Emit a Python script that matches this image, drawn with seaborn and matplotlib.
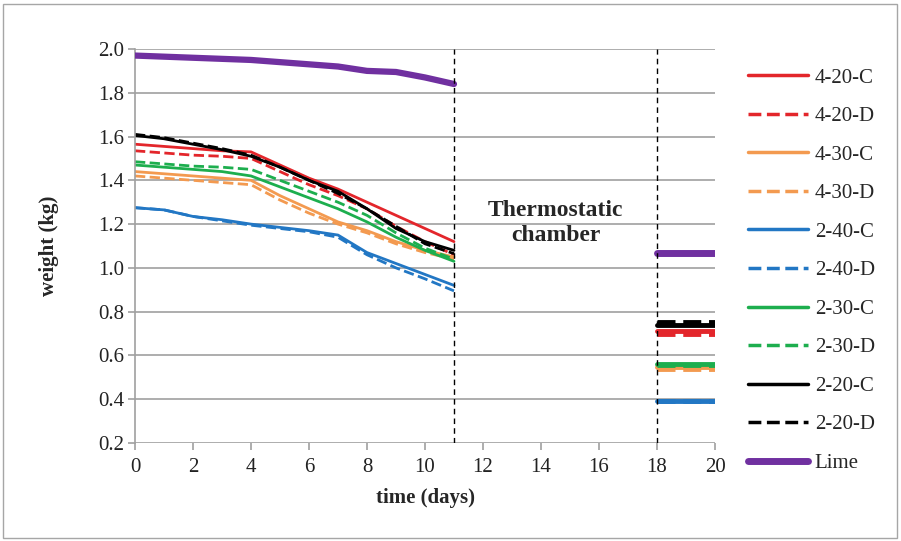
import matplotlib
matplotlib.use("Agg")
import matplotlib.pyplot as plt
import seaborn as sns
import pandas as pd
from matplotlib.lines import Line2D
from matplotlib.patches import Rectangle

days_a = [0, 1, 2, 3, 4, 5, 6, 7, 8, 9, 10, 11]
days_b = [18, 19, 20]

series_names = ["4-20-C", "4-20-D", "4-30-C", "4-30-D", "2-40-C", "2-40-D",
                "2-30-C", "2-30-D", "2-20-C", "2-20-D", "Lime"]

v_420C = [1.565, 1.555, 1.545, 1.535, 1.53, 1.47, 1.41, 1.36, 1.30, 1.24, 1.18, 1.12]
v_420D = [1.535, 1.525, 1.515, 1.51, 1.50, 1.44, 1.38, 1.33, 1.27, 1.19, 1.12, 1.06]
v_430C = [1.44, 1.43, 1.42, 1.41, 1.40, 1.33, 1.27, 1.21, 1.17, 1.12, 1.08, 1.05]
v_430D = [1.42, 1.41, 1.40, 1.39, 1.38, 1.31, 1.25, 1.20, 1.16, 1.11, 1.07, 1.04]
v_240C = [1.275, 1.265, 1.235, 1.22, 1.20, 1.185, 1.17, 1.15, 1.07, 1.02, 0.97, 0.92]
v_240D = [1.275, 1.265, 1.235, 1.215, 1.195, 1.18, 1.165, 1.14, 1.06, 1.00, 0.95, 0.895]
v_230C = [1.47, 1.46, 1.45, 1.44, 1.42, 1.37, 1.32, 1.27, 1.21, 1.14, 1.08, 1.03]
v_230D = [1.485, 1.475, 1.465, 1.46, 1.45, 1.40, 1.35, 1.30, 1.24, 1.16, 1.09, 1.04]
v_220C = [1.605, 1.59, 1.565, 1.54, 1.51, 1.46, 1.40, 1.35, 1.27, 1.18, 1.12, 1.08]
v_220D = [1.61, 1.595, 1.57, 1.545, 1.515, 1.46, 1.40, 1.34, 1.27, 1.19, 1.11, 1.065]
v_lime = [1.97, 1.965, 1.96, 1.955, 1.95, 1.94, 1.93, 1.92, 1.90, 1.895, 1.87, 1.84]

end_values = [0.71, 0.70, 0.545, 0.54, 0.39, 0.39, 0.56, 0.555, 0.74, 0.755, 1.07]

first_values = [v_420C, v_420D, v_430C, v_430D, v_240C, v_240D,
                v_230C, v_230D, v_220C, v_220D, v_lime]

colors = ["#E3262B", "#E3262B", "#F39A50", "#F39A50", "#2277C4", "#2277C4",
          "#1DAE4E", "#1DAE4E", "#000000", "#000000", "#7030A0"]
styles = ["-", "--", "-", "--", "-", "--", "-", "--", "-", "--", "-"]
widths = [2.0, 2.0, 2.0, 2.0, 2.0, 2.0, 2.0, 2.0, 2.0, 2.0, 4.5]

xticks = list(range(0, 21, 2))
yticks = [0.2, 0.4, 0.6, 0.8, 1.0, 1.2, 1.4, 1.6, 1.8, 2.0]

sns.set_theme(style="white")
plt.rcParams["font.family"] = ["Liberation Serif", "DejaVu Serif"]

fig = plt.figure(figsize=(9.01, 5.41), dpi=100)
W, H = 901, 541
ax = fig.add_axes([135 / W, 1 - 443 / H, (715 - 135) / W, (443 - 49) / H])

# figure border
fig.patches.append(Rectangle((3 / W, 3 / H), (W - 7) / W, (H - 7) / H,
                             transform=fig.transFigure, fill=False,
                             edgecolor="#A6A6A6", linewidth=1.0))

handles = []
for name, va, vb, c, ls, lw in zip(series_names, first_values, end_values,
                                   colors, styles, widths):
    df1 = pd.DataFrame({"day": days_a, "w": va})
    df2 = pd.DataFrame({"day": days_b, "w": [vb] * len(days_b)})
    z = 3 if name == "Lime" else 2
    sns.lineplot(data=df1, x="day", y="w", ax=ax, color=c, linestyle=ls,
                 linewidth=lw, zorder=z, estimator=None)
    sns.lineplot(data=df2, x="day", y="w", ax=ax, color=c, linestyle=ls,
                 linewidth=lw + (1.5 if name != "Lime" else 0.5), zorder=z,
                 estimator=None)
    handles.append(Line2D([0], [0], color=c, linestyle=ls, linewidth=lw + 0.5))

for xv in (11, 18):
    ax.axvline(xv, color="black", linestyle=(0, (4, 3)), linewidth=1.0, zorder=4)

ax.set_xlim(0, 20)
ax.set_ylim(0.2, 2.0)
ax.set_xticks(xticks)
ax.set_yticks(yticks)
ax.set_yticklabels([f"{v:.1f}" for v in yticks])
ax.yaxis.grid(True, color="#A0A0A0", linewidth=1.2)
ax.xaxis.grid(False)
for s in ("top", "right", "bottom"):
    ax.spines[s].set_visible(False)
ax.spines["left"].set_color("#A0A0A0")
ax.spines["left"].set_linewidth(1.2)
ax.tick_params(axis="both", which="both", direction="out", length=5,
               color="#A0A0A0", width=1.2, labelsize=15, labelcolor="#222222",
               left=True, bottom=True, pad=3)
ax.tick_params(axis="x", pad=6)
ax.set_xlabel("time (days)", fontsize=15, fontweight="bold", labelpad=8)
ax.set_ylabel("weight (kg)", fontsize=15, fontweight="bold", labelpad=28)

ax.text(14.5, 1.205, "Thermostatic\nchamber", ha="center", va="center",
        fontsize=17, fontweight="bold", linespacing=1.2)

fig.legend(handles, series_names, loc="upper left",
           bbox_to_anchor=(748 / W, 1 - 68 / H), frameon=False,
           fontsize=15, handlelength=2.9, handletextpad=0.3,
           labelspacing=0.91, borderpad=0, borderaxespad=0)

fig.savefig("out.png", dpi=100)
